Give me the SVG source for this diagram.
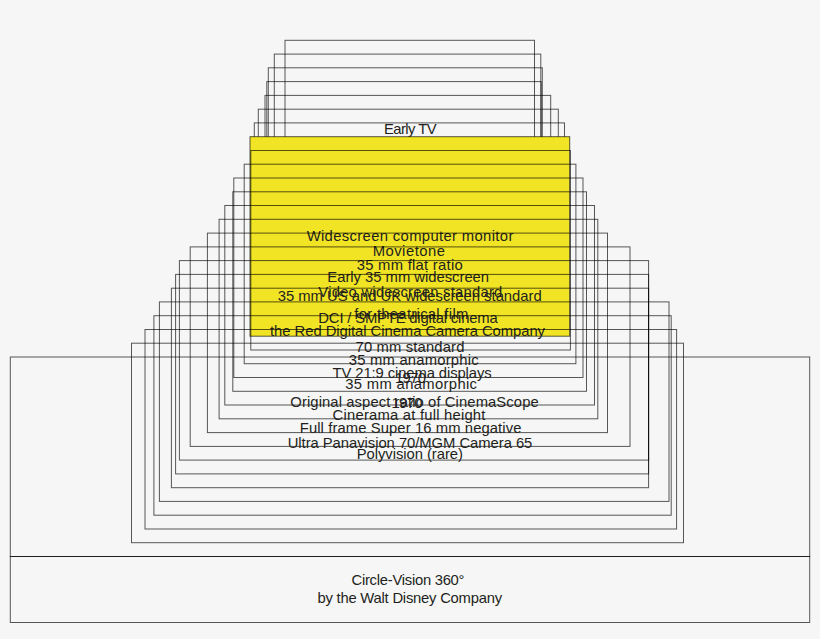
<svg xmlns="http://www.w3.org/2000/svg" width="820" height="639" viewBox="0 0 820 639">
<style>
.f{fill:none;stroke:#000;stroke-opacity:.65;stroke-width:1}
.y{fill:#f1e424;stroke:#000;stroke-opacity:.65;stroke-width:1}
text{font-family:"Liberation Sans",Arial,sans-serif;font-size:14.8px;fill:#231f20;text-anchor:middle}
</style>
<rect width="820" height="639" fill="#f6f6f6"/>
<g id="nodes">
<g id="r0"><rect class="f" x="285" y="40.3" width="249.5" height="199.5"/><text x="410.3" y="134" textLength="52.7">Early TV</text></g>
<g id="r1"><rect class="f" x="274.3" y="54.1" width="266.5" height="199.5"/></g>
<g id="r2"><rect class="f" x="268.3" y="67.8" width="274" height="199.5"/></g>
<g id="r3"><rect class="f" x="266.8" y="81.6" width="274.4" height="199.5"/></g>
<g id="r4"><rect class="f" x="265" y="95.4" width="285.7" height="199.5"/></g>
<g id="r5"><rect class="f" x="258.3" y="109.2" width="300" height="199.5"/></g>
<g id="r6"><rect class="f" x="254.3" y="122.9" width="310.2" height="199.5"/></g>
<g id="r7"><rect class="y" x="250" y="136.7" width="319.7" height="199.5"/><text x="410" y="241" textLength="206.7">Widescreen computer monitor</text></g>
<g id="r8"><rect class="f" x="250.8" y="150.5" width="319.6" height="199.5"/><text x="408.8" y="255.5" textLength="72.3">Movietone</text></g>
<g id="r9"><rect class="f" x="244.2" y="164.2" width="331.7" height="199.5"/><text x="409.7" y="270" textLength="106">35 mm flat ratio</text></g>
<g id="r10"><rect class="f" x="233.8" y="178" width="349.2" height="199.5"/><text x="408.2" y="281.7" textLength="161.7">Early 35 mm widescreen</text></g>
<g id="r11"><rect class="f" x="232.8" y="191.8" width="353.7" height="199.5"/><text x="410.3" y="296.5" textLength="184">Video widescreen standard</text></g>
<g id="r12"><rect class="f" x="224.8" y="205.5" width="369.7" height="199.5"/><text x="409.7" y="301" textLength="264">35 mm US and UK widescreen standard</text><text x="411.3" y="318.5" textLength="114">for theatrical film</text></g>
<g id="r13"><rect class="f" x="219.1" y="219.3" width="378.7" height="199.5"/><text x="408" y="323.3" textLength="179.3">DCI / SMPTE digital cinema</text></g>
<g id="r14"><rect class="f" x="207.4" y="233.1" width="400.1" height="199.5"/><text x="407.5" y="335.7" textLength="275">the Red Digital Cinema Camera Company</text></g>
<g id="r15"><rect class="f" x="190.2" y="246.9" width="439.8" height="199.5"/><text x="410" y="351.7" textLength="108.8">70 mm standard</text></g>
<g id="r16"><rect class="f" x="179.4" y="260.6" width="469.2" height="199.5"/><text x="413.7" y="365" textLength="129.8">35 mm anamorphic</text><text x="410.5" y="382.5" textLength="31">1970</text></g>
<g id="r17"><rect class="f" x="175.6" y="274.4" width="473" height="199.5"/><text x="412.1" y="377.7" textLength="159">TV 21:9 cinema displays</text></g>
<g id="r18"><rect class="f" x="171.4" y="288.2" width="477.2" height="199.5"/><text x="411.1" y="389" textLength="131.8">35 mm anamorphic</text><text x="407" y="407.5" textLength="31">1970</text></g>
<g id="r19"><rect class="f" x="159.4" y="301.9" width="509.6" height="199.5"/><text x="414.5" y="406.7" textLength="248.4">Original aspect ratio of CinemaScope</text></g>
<g id="r20"><rect class="f" x="153.9" y="315.7" width="517.3" height="199.5"/><text x="409" y="420" textLength="152.8">Cinerama at full height</text></g>
<g id="r21"><rect class="f" x="145" y="329.5" width="531.6" height="199.5"/><text x="410.6" y="433.3" textLength="221.7">Full frame Super 16 mm negative</text></g>
<g id="r22"><rect class="f" x="131.5" y="343.2" width="552" height="199.5"/><text x="410" y="447.7" textLength="244.7">Ultra Panavision 70/MGM Camera 65</text></g>
<g id="r23"><rect class="f" x="10.3" y="357" width="799.4" height="199.5"/><text x="409.8" y="459.3" textLength="106.2">Polyvision (rare)</text></g>
<g id="circlevision"><rect class="f" x="10.3" y="556.5" width="799.4" height="66"/><text x="408" y="585" textLength="113">Circle-Vision 360°</text><text x="409.8" y="603.3" textLength="184.6">by the Walt Disney Company</text></g>
</g>
<g id="connectors"/>
</svg>
